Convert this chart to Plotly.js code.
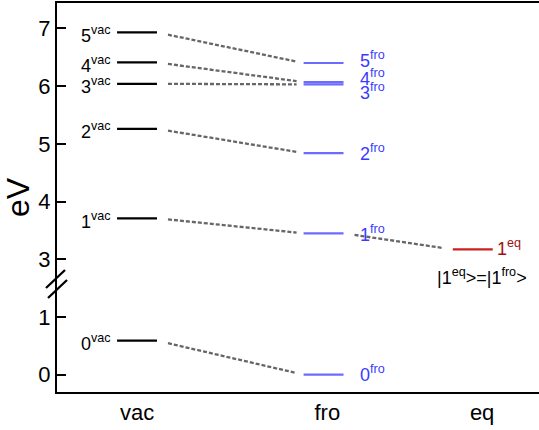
<!DOCTYPE html>
<html>
<head>
<meta charset="utf-8">
<script src="https://cdn.plot.ly/plotly-3.0.1.min.js"></script>
<style>html,body{margin:0;padding:0;background:#fff;}#chart{width:539px;height:430px;}</style>
</head>
<body>
<div id="chart"></div>
<script>
// ---- data (energies in eV) ----
const columns = ['vac', 'fro', 'eq'];
const stateLabels = ['0', '1', '2', '3', '4', '5'];
const vacLevels = [0.59, 3.71, 5.26, 6.04, 6.41, 6.93];
const froLevels = [0.00, 3.45, 4.84, 6.03, 6.07, 6.40];
const eqStates = ['1'];
const eqLevels = [3.17];
const yTickLabels = ['0', '1', '3', '4', '5', '6', '7'];
const stateRelation = '|1<sup>eq</sup>&gt;=|1<sup>fro</sup>&gt;';

// ---- broken axis: values >= 3 are shifted down by 1 ----
function disp(v) { return v < 2 ? v : v - 1; }

const colX = {vac: 1, fro: 2, eq: 2.8};
const half = 0.107;   // half width of a level line
const unitPx = 186.5; // px per x unit

const traces = [];
function levelTrace(levels, cx, color) {
  const xs = [], ys = [];
  levels.forEach(v => { xs.push(cx - half, cx + half, null); ys.push(disp(v), disp(v), null); });
  return {type: 'scatter', mode: 'lines', x: xs, y: ys, line: {color: color, width: 2.2}, hoverinfo: 'skip', showlegend: false};
}
function connector(x1, y1, x2, y2, g1, g2) {
  const a = x1 + g1 / unitPx, b = x2 - g2 / unitPx;
  const ya = y1 + (y2 - y1) * (a - x1) / (x2 - x1);
  const yb = y1 + (y2 - y1) * (b - x1) / (x2 - x1);
  return [a, b, ya, yb];
}
const cx = [], cy = [];
vacLevels.forEach((v, i) => {
  const c = connector(colX.vac + half, disp(v), colX.fro - half, disp(froLevels[i]), 11, 7);
  cx.push(c[0], c[1], null); cy.push(c[2], c[3], null);
});
{
  const c = connector(colX.fro + half, disp(froLevels[1]), colX.eq - half, disp(eqLevels[0]), 11, 10);
  cx.push(c[0], c[1], null); cy.push(c[2], c[3], null);
}
traces.push({type: 'scatter', mode: 'lines', x: cx, y: cy, line: {color: '#666666', width: 2.3, dash: '4px,2px'}, hoverinfo: 'skip', showlegend: false});
traces.push(levelTrace(vacLevels, colX.vac, '#000000'));
traces.push(levelTrace(froLevels, colX.fro, '#6b6bff'));
traces.push(levelTrace(eqLevels, colX.eq, '#cc1f1f'));

const FONT = 'Liberation Sans, Arial, Helvetica, sans-serif';
const froShift = [1, 0, 1, -7, 5, 4];
const annotations = [];
vacLevels.forEach((v, i) => annotations.push({
  x: colX.vac - half, y: disp(v), xref: 'x', yref: 'y', xanchor: 'right', yanchor: 'middle', xshift: -4, yshift: -2,
  text: stateLabels[i] + '<sup>vac</sup>', showarrow: false, font: {family: FONT, size: 18, color: '#000'}
}));
froLevels.forEach((v, i) => annotations.push({
  x: colX.fro + half, y: disp(v), xref: 'x', yref: 'y', xanchor: 'left', yanchor: 'middle', xshift: 14, yshift: froShift[i],
  text: stateLabels[i] + '<sup>fro</sup>', showarrow: false, font: {family: FONT, size: 18, color: '#3b3bff'}
}));
eqLevels.forEach((v, i) => annotations.push({
  x: colX.eq + half, y: disp(v), xref: 'x', yref: 'y', xanchor: 'left', yanchor: 'middle', xshift: 2, yshift: 2,
  text: eqStates[i] + '<sup>eq</sup>', showarrow: false, font: {family: FONT, size: 18, color: '#a01010'}
}));
annotations.push({
  x: colX.eq, y: disp(eqLevels[0]), xref: 'x', yref: 'y', xanchor: 'center', yanchor: 'middle', xshift: 9, yshift: -27,
  text: stateRelation, showarrow: false, font: {family: FONT, size: 18, color: '#000'}
});

// break marks
function px2paper(px) { return (px - 57) / 482; }
function py2y(py) { return (374.7 - py) / 57.73; }
const shapes = [
  {type: 'line', xref: 'paper', yref: 'y', x0: px2paper(46), y0: py2y(288), x1: px2paper(65), y1: py2y(270), line: {color: '#000', width: 2.3}},
  {type: 'line', xref: 'paper', yref: 'y', x0: px2paper(48), y0: py2y(298), x1: px2paper(67), y1: py2y(280), line: {color: '#000', width: 2.3}}
];

const layout = {
  width: 539, height: 430,
  margin: {l: 57, r: 0, t: 3, b: 38, pad: 0},
  paper_bgcolor: '#fff', plot_bgcolor: '#fff',
  showlegend: false,
  font: {family: FONT, color: '#000'},
  xaxis: {
    range: [0.571, 3.155], showgrid: false, zeroline: false,
    showline: true, mirror: true, linecolor: '#000', linewidth: 2,
    ticks: '', tickvals: [1, 2.02, 2.85], ticktext: columns,
    tickfont: {family: FONT, size: 22, color: '#000'}, fixedrange: true
  },
  yaxis: {
    range: [-0.30, 6.44], showgrid: false, zeroline: false,
    showline: true, linecolor: '#000', linewidth: 2,
    ticks: 'inside', ticklen: 9, tickwidth: 2, tickcolor: '#000',
    tickvals: yTickLabels.map(t => disp(Number(t))), ticktext: yTickLabels,
    tickfont: {family: FONT, size: 22, color: '#000'},
    title: {text: 'eV', font: {family: FONT, size: 32, color: '#000'}, standoff: 2}, fixedrange: true
  },
  annotations: annotations,
  shapes: shapes
};
Plotly.newPlot('chart', traces, layout, {staticPlot: true, displayModeBar: false});
</script>
</body>
</html>
